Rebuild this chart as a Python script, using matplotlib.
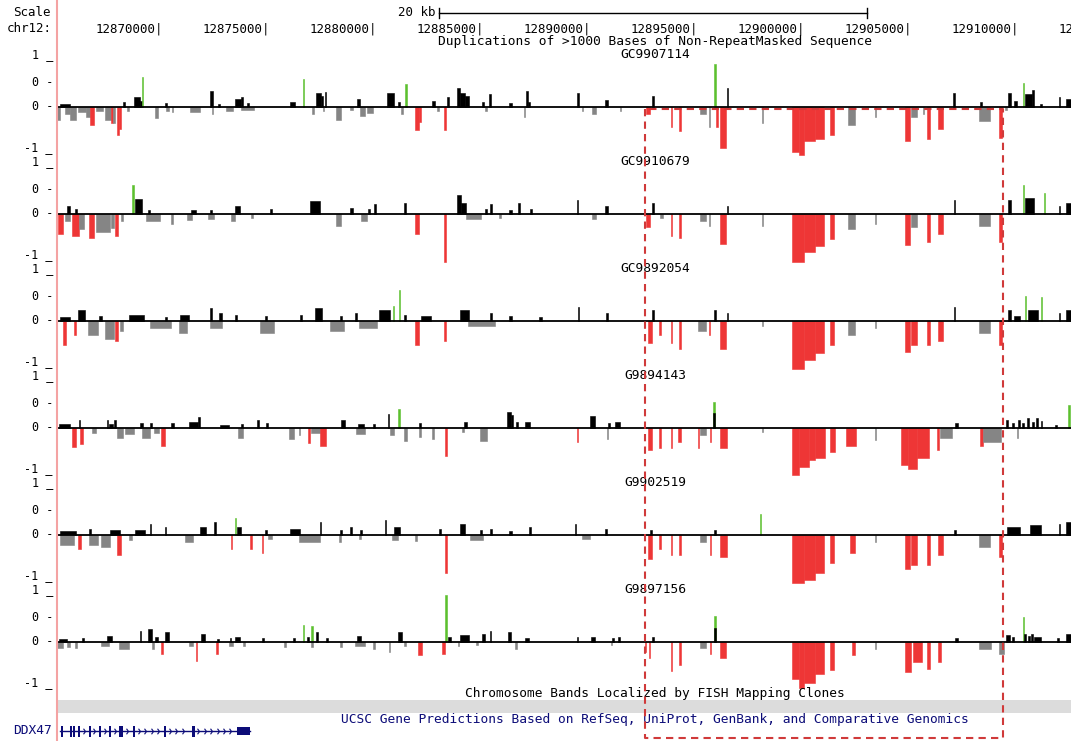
import numpy as np
import matplotlib.pyplot as plt
from matplotlib.patches import Rectangle
from matplotlib.path import Path

plt.rcParams['font.family'] = ['DejaVu Sans Mono']

W, H = 1071, 741
DPI = 100

# genome browser window on chr12, positions below are kb offsets from `origin`
origin = 12865000
view = (0.166, 47.53)
ruler_ticks = [12870000, 12875000, 12880000, 12885000, 12890000,
               12895000, 12900000, 12905000, 12910000, 12915000]
scale_bar = (18.0, 38.0)          # 20 kb
highlight = (27.63, 44.35)        # boxed region

track_title = "Duplications of >1000 Bases of Non-RepeatMasked Sequence"
track_names = ["GC9907114", "GC9910679", "GC9892054",
               "G9894143", "G9902519", "G9897156"]

# (start_kb, end_kb, value, called)
gc9907114 = [
    (0.31, 0.75, 0.04, 0), (3.26, 3.36, 0.08, 0), (3.77, 4.02, 0.17, 0), (4.02, 4.13, 0.11, 0),
    (4.13, 4.20, 0.55, 1), (5.19, 5.29, 0.06, 0), (7.31, 7.44, 0.30, 0), (7.70, 7.80, 0.04, 0),
    (8.49, 8.77, 0.15, 0), (8.77, 8.86, 0.17, 0), (9.05, 9.15, 0.06, 0), (11.07, 11.27, 0.08, 0),
    (11.65, 11.72, 0.51, 1), (12.28, 12.48, 0.25, 0), (12.48, 12.58, 0.19, 0), (12.69, 12.75, 0.28, 0),
    (14.16, 14.31, 0.15, 0), (15.58, 15.91, 0.25, 0), (16.09, 16.19, 0.09, 0), (16.43, 16.53, 0.43, 1),
    (17.68, 17.83, 0.11, 0), (18.38, 18.48, 0.17, 0), (18.84, 18.99, 0.34, 0), (18.99, 19.24, 0.26, 0),
    (19.24, 19.43, 0.19, 0), (20.00, 20.10, 0.09, 0), (20.36, 20.44, 0.23, 0), (21.30, 21.40, 0.06, 0),
    (22.08, 22.16, 0.30, 0), (22.16, 22.28, 0.09, 0), (24.47, 24.53, 0.25, 0), (25.74, 25.89, 0.13, 0),
    (27.96, 28.06, 0.19, 0), (30.86, 30.94, 0.81, 1), (31.44, 31.52, 0.34, 0), (42.03, 42.09, 0.25, 0),
    (43.26, 43.36, 0.08, 0), (44.61, 44.71, 0.26, 0), (44.85, 45.00, 0.11, 0), (45.28, 45.35, 0.45, 1),
    (45.38, 45.73, 0.23, 0), (45.73, 45.82, 0.32, 0), (46.06, 46.16, 0.04, 0), (46.97, 47.03, 0.17, 0),
    (47.31, 47.56, 0.15, 0),
    (0.17, 0.32, -0.25, 0), (0.55, 0.75, -0.15, 0), (0.75, 1.04, -0.25, 0), (1.13, 1.53, -0.11, 0),
    (1.53, 1.72, -0.19, 0), (1.72, 1.91, -0.34, 1), (2.00, 2.30, -0.09, 0), (2.39, 2.69, -0.25, 0),
    (2.69, 2.79, -0.32, 1), (2.79, 2.89, -0.32, 0), (2.97, 3.07, -0.53, 1), (3.07, 3.17, -0.42, 1),
    (3.45, 3.55, -0.09, 0), (4.75, 4.90, -0.21, 0), (5.28, 5.38, -0.08, 0), (5.53, 5.60, -0.11, 0),
    (6.39, 6.84, -0.11, 0), (7.41, 7.47, -0.15, 0), (8.08, 8.38, -0.09, 0), (8.75, 9.35, -0.06, 0),
    (12.09, 12.16, -0.15, 0), (12.57, 12.64, -0.09, 0), (13.20, 13.45, -0.25, 0), (13.87, 13.97, -0.07, 0),
    (14.31, 14.56, -0.17, 0), (14.64, 14.94, -0.12, 0), (16.24, 16.31, -0.15, 0), (16.87, 17.07, -0.45, 1),
    (17.07, 17.17, -0.30, 1), (17.93, 18.03, -0.09, 0), (18.22, 18.34, -0.45, 1), (20.15, 20.23, -0.09, 0),
    (21.98, 22.04, -0.19, 0), (24.68, 24.74, -0.09, 0), (25.16, 25.36, -0.15, 0), (26.47, 26.53, -0.09, 0),
    (27.67, 27.87, -0.15, 1), (28.83, 28.90, -0.38, 1), (29.24, 29.32, -0.47, 1), (30.18, 30.48, -0.15, 0),
    (30.62, 30.69, -0.38, 0), (30.96, 31.06, -0.38, 1), (31.15, 31.40, -0.79, 1), (33.08, 33.14, -0.32, 0),
    (34.52, 34.82, -0.85, 1), (34.82, 35.06, -0.91, 1), (35.06, 35.55, -0.66, 1), (35.55, 35.98, -0.62, 1),
    (36.26, 36.46, -0.53, 1), (37.13, 37.45, -0.34, 0), (38.38, 38.44, -0.19, 0), (39.78, 40.03, -0.66, 1),
    (40.07, 40.32, -0.19, 0), (40.60, 40.68, -0.15, 0), (40.80, 40.95, -0.62, 1), (41.33, 41.53, -0.42, 1),
    (43.25, 43.75, -0.28, 0), (44.17, 44.32, -0.60, 1), (44.46, 44.56, -0.06, 0),
]

gc9910679 = [
    (0.65, 0.75, 0.15, 0), (0.99, 1.09, 0.08, 0), (3.69, 3.76, 0.53, 1), (3.79, 4.14, 0.28, 0),
    (4.42, 4.52, 0.06, 0), (6.44, 6.64, 0.06, 0), (7.31, 7.41, 0.06, 0), (8.47, 8.72, 0.15, 0),
    (10.11, 10.21, 0.08, 0), (11.99, 12.44, 0.23, 0), (13.87, 13.97, 0.11, 0), (14.69, 14.79, 0.09, 0),
    (14.98, 15.08, 0.17, 0), (16.38, 16.48, 0.19, 0), (18.84, 19.04, 0.34, 0), (19.04, 19.29, 0.19, 0),
    (20.15, 20.25, 0.09, 0), (20.39, 20.49, 0.17, 0), (21.30, 21.40, 0.06, 0), (21.69, 21.79, 0.19, 0),
    (22.27, 22.37, 0.08, 0), (24.44, 24.51, 0.25, 0), (25.74, 25.89, 0.15, 0), (27.96, 28.06, 0.19, 0),
    (31.44, 31.52, 0.15, 0), (42.05, 42.11, 0.25, 0), (44.61, 44.71, 0.26, 0), (45.28, 45.35, 0.53, 1),
    (45.38, 45.82, 0.30, 0), (46.25, 46.32, 0.38, 1), (46.97, 47.03, 0.15, 0), (47.31, 47.56, 0.19, 0),
    (0.22, 0.46, -0.38, 1), (0.55, 0.75, -0.15, 0), (0.89, 1.18, -0.43, 1), (1.18, 1.42, -0.30, 0),
    (1.67, 1.91, -0.47, 1), (2.00, 2.63, -0.34, 0), (2.68, 2.83, -0.28, 0), (2.87, 3.02, -0.43, 1),
    (3.16, 3.26, -0.15, 0), (4.32, 5.00, -0.15, 0), (5.48, 5.58, -0.19, 0), (6.25, 6.45, -0.13, 0),
    (7.21, 7.51, -0.11, 0), (8.28, 8.48, -0.15, 0), (9.24, 9.34, -0.09, 0), (13.20, 13.45, -0.23, 0),
    (14.36, 14.66, -0.15, 0), (16.87, 17.07, -0.38, 1), (18.22, 18.32, -0.92, 1), (19.28, 19.98, -0.11, 0),
    (20.82, 20.92, -0.08, 0), (25.16, 25.36, -0.11, 0), (27.67, 27.87, -0.26, 1), (28.35, 28.45, -0.09, 0),
    (28.83, 28.90, -0.42, 1), (29.24, 29.32, -0.47, 1), (30.18, 30.48, -0.15, 0), (30.62, 30.69, -0.23, 0),
    (31.15, 31.40, -0.57, 1), (33.08, 33.14, -0.23, 0), (34.52, 35.06, -0.91, 1), (35.06, 35.55, -0.72, 1),
    (35.55, 35.98, -0.62, 1), (36.26, 36.46, -0.49, 1), (37.13, 37.45, -0.30, 0), (38.38, 38.44, -0.19, 0),
    (39.78, 40.03, -0.60, 1), (40.07, 40.32, -0.25, 0), (40.80, 40.95, -0.53, 1), (41.33, 41.53, -0.38, 1),
    (43.25, 43.75, -0.23, 0), (44.17, 44.32, -0.53, 1),
]

gc9892054 = [
    (0.31, 0.75, 0.06, 0), (1.13, 1.47, 0.19, 0), (2.15, 2.25, 0.09, 0), (3.55, 4.22, 0.11, 0),
    (5.19, 5.29, 0.06, 0), (5.91, 6.35, 0.11, 0), (7.31, 7.41, 0.23, 0), (7.75, 7.85, 0.15, 0),
    (8.47, 8.57, 0.11, 0), (9.87, 9.97, 0.09, 0), (11.51, 11.61, 0.11, 0), (12.23, 12.53, 0.23, 0),
    (13.40, 13.50, 0.08, 0), (14.07, 14.17, 0.15, 0), (15.22, 15.71, 0.19, 0), (15.85, 15.92, 0.28, 1),
    (16.14, 16.21, 0.57, 1), (16.38, 16.48, 0.11, 0), (17.16, 17.64, 0.08, 0), (18.99, 19.43, 0.19, 0),
    (20.39, 20.49, 0.15, 0), (21.30, 21.40, 0.08, 0), (22.70, 22.80, 0.06, 0), (24.49, 24.56, 0.25, 0),
    (25.79, 25.89, 0.15, 0), (27.96, 28.06, 0.19, 0), (30.86, 30.94, 0.19, 0), (31.44, 31.52, 0.15, 0),
    (42.05, 42.11, 0.25, 0), (44.61, 44.71, 0.19, 0), (44.85, 45.15, 0.08, 0), (45.38, 45.45, 0.47, 1),
    (45.52, 46.01, 0.19, 0), (46.11, 46.18, 0.45, 1), (46.97, 47.03, 0.15, 0), (47.31, 47.56, 0.19, 0),
    (0.46, 0.60, -0.47, 1), (0.94, 1.04, -0.28, 1), (1.62, 2.10, -0.28, 0), (2.39, 2.83, -0.34, 0),
    (2.87, 3.02, -0.38, 1), (3.11, 3.26, -0.19, 0), (4.51, 5.48, -0.15, 0), (5.86, 6.25, -0.23, 0),
    (7.31, 7.89, -0.15, 0), (9.63, 10.30, -0.23, 0), (12.91, 13.58, -0.19, 0), (14.26, 15.13, -0.15, 0),
    (16.87, 17.07, -0.47, 1), (18.22, 18.32, -0.38, 1), (19.37, 20.63, -0.11, 0), (27.77, 27.96, -0.42, 1),
    (28.30, 28.37, -0.28, 1), (28.83, 28.90, -0.42, 1), (29.24, 29.32, -0.53, 1), (30.09, 30.48, -0.19, 0),
    (30.62, 30.69, -0.28, 1), (31.15, 31.40, -0.53, 1), (33.08, 33.14, -0.11, 0), (34.52, 35.06, -0.91, 1),
    (35.06, 35.55, -0.75, 1), (35.55, 35.98, -0.62, 1), (36.26, 36.46, -0.47, 1), (37.13, 37.45, -0.28, 0),
    (38.38, 38.44, -0.15, 0), (39.78, 40.03, -0.60, 1), (40.07, 40.36, -0.47, 1), (40.80, 40.95, -0.47, 1),
    (41.33, 41.53, -0.38, 1), (43.25, 43.75, -0.23, 0), (44.17, 44.32, -0.47, 1),
]

g9894143 = [
    (0.27, 0.75, 0.06, 0), (1.18, 1.25, 0.15, 0), (2.49, 2.56, 0.15, 0), (2.58, 2.78, 0.06, 0),
    (2.85, 2.92, 0.15, 0), (4.03, 4.18, 0.08, 0), (4.51, 4.61, 0.09, 0), (5.48, 5.63, 0.09, 0),
    (6.35, 6.73, 0.11, 0), (6.73, 6.83, 0.19, 0), (7.79, 8.18, 0.04, 0), (8.76, 8.86, 0.06, 0),
    (9.53, 9.60, 0.15, 0), (9.92, 10.02, 0.08, 0), (13.44, 13.64, 0.15, 0), (14.21, 14.50, 0.06, 0),
    (14.94, 15.04, 0.06, 0), (15.61, 15.67, 0.25, 0), (16.09, 16.17, 0.34, 1), (17.06, 17.16, 0.08, 0),
    (19.18, 19.33, 0.11, 0), (21.20, 21.35, 0.30, 0), (21.35, 21.45, 0.23, 0), (21.59, 21.69, 0.11, 0),
    (22.03, 22.28, 0.11, 0), (25.07, 25.31, 0.21, 0), (25.89, 25.99, 0.09, 0), (26.23, 26.47, 0.11, 0),
    (30.81, 30.89, 0.49, 1), (30.81, 30.89, 0.28, 0), (42.10, 42.25, 0.08, 0), (44.51, 44.61, 0.15, 0),
    (44.76, 44.86, 0.09, 0), (45.05, 45.15, 0.15, 0), (45.24, 45.34, 0.09, 0), (45.48, 45.58, 0.17, 0),
    (45.72, 45.82, 0.11, 0), (45.91, 46.01, 0.17, 0), (46.11, 46.17, 0.13, 0), (46.78, 46.88, 0.04, 0),
    (47.41, 47.48, 0.42, 1),
    (0.86, 1.04, -0.36, 1), (1.23, 1.38, -0.32, 1), (1.81, 2.00, -0.11, 0), (2.97, 3.26, -0.19, 0),
    (3.35, 3.74, -0.13, 0), (4.13, 4.51, -0.19, 0), (4.71, 4.95, -0.11, 0), (5.04, 5.19, -0.34, 1),
    (8.61, 8.86, -0.19, 0), (10.98, 11.22, -0.21, 0), (11.46, 11.53, -0.15, 0), (11.90, 12.00, -0.30, 1),
    (12.04, 12.43, -0.11, 0), (12.47, 12.72, -0.34, 1), (14.11, 14.55, -0.13, 0), (15.71, 15.90, -0.15, 0),
    (16.38, 16.53, -0.25, 0), (17.06, 17.16, -0.17, 0), (17.69, 17.76, -0.21, 0), (18.27, 18.37, -0.53, 1),
    (19.09, 19.19, -0.09, 0), (19.91, 20.25, -0.25, 0), (24.44, 24.49, -0.28, 1), (25.84, 25.90, -0.21, 0),
    (27.77, 27.96, -0.42, 1), (28.30, 28.37, -0.38, 1), (28.83, 28.90, -0.38, 1), (29.17, 29.32, -0.28, 1),
    (30.09, 30.14, -0.38, 1), (30.18, 30.48, -0.15, 0), (30.67, 30.73, -0.28, 1), (31.15, 31.44, -0.38, 1),
    (33.08, 33.13, -0.09, 0), (34.52, 34.82, -0.89, 1), (34.82, 35.30, -0.75, 1), (35.30, 35.59, -0.62, 1),
    (35.59, 36.02, -0.57, 1), (36.26, 36.50, -0.47, 1), (37.03, 37.51, -0.34, 1), (38.38, 38.44, -0.23, 0),
    (39.59, 39.93, -0.70, 1), (39.93, 40.32, -0.79, 1), (40.32, 40.90, -0.57, 1), (41.28, 41.38, -0.42, 1),
    (41.43, 41.96, -0.19, 0), (43.30, 43.40, -0.34, 1), (43.40, 44.27, -0.28, 0), (45.00, 45.07, -0.19, 0),
]

g9902519 = [
    (0.31, 1.04, 0.06, 0), (1.67, 1.76, 0.11, 0), (2.63, 3.11, 0.08, 0), (3.79, 4.27, 0.09, 0),
    (4.51, 4.58, 0.19, 0), (5.19, 5.26, 0.15, 0), (6.83, 7.12, 0.15, 0), (7.50, 7.57, 0.23, 0),
    (8.47, 8.54, 0.32, 1), (8.57, 8.76, 0.15, 0), (9.87, 9.97, 0.09, 0), (11.03, 11.51, 0.11, 0),
    (12.43, 12.50, 0.23, 0), (13.40, 13.50, 0.09, 0), (13.83, 13.93, 0.15, 0), (14.31, 14.41, 0.08, 0),
    (15.47, 15.54, 0.28, 0), (15.90, 16.19, 0.15, 0), (18.02, 18.12, 0.11, 0), (18.99, 19.24, 0.19, 0),
    (19.91, 20.01, 0.08, 0), (20.39, 20.49, 0.11, 0), (21.30, 21.40, 0.06, 0), (22.22, 22.32, 0.15, 0),
    (24.34, 24.41, 0.19, 0), (25.74, 25.84, 0.11, 0), (27.86, 27.96, 0.09, 0), (30.86, 30.93, 0.09, 0),
    (32.98, 33.05, 0.38, 1), (42.05, 42.15, 0.09, 0), (44.56, 45.15, 0.15, 0), (45.62, 46.11, 0.17, 0),
    (46.97, 47.03, 0.19, 0), (47.31, 47.56, 0.23, 0),
    (0.31, 0.94, -0.19, 0), (1.13, 1.28, -0.28, 1), (1.67, 2.06, -0.19, 0), (2.20, 2.63, -0.23, 0),
    (2.97, 3.17, -0.38, 1), (3.55, 3.65, -0.11, 0), (6.15, 6.54, -0.15, 0), (8.28, 8.35, -0.28, 1),
    (9.20, 9.27, -0.28, 1), (9.73, 9.80, -0.34, 1), (10.02, 10.21, -0.09, 0), (11.46, 12.43, -0.15, 0),
    (13.35, 13.45, -0.15, 0), (14.26, 14.36, -0.09, 0), (15.81, 16.09, -0.11, 0), (16.87, 16.97, -0.13, 0),
    (18.27, 18.37, -0.72, 1), (19.47, 20.05, -0.11, 0), (24.68, 25.07, -0.09, 0), (27.77, 27.96, -0.47, 1),
    (28.30, 28.37, -0.28, 1), (28.83, 28.90, -0.38, 1), (29.24, 29.32, -0.38, 1), (30.18, 30.48, -0.15, 0),
    (30.67, 30.73, -0.38, 1), (31.15, 31.44, -0.42, 1), (34.52, 35.06, -0.92, 1), (35.06, 35.55, -0.85, 1),
    (35.55, 35.98, -0.72, 1), (36.26, 36.46, -0.53, 1), (37.23, 37.45, -0.34, 1), (38.38, 38.44, -0.15, 0),
    (39.78, 40.03, -0.66, 1), (40.07, 40.36, -0.57, 1), (40.80, 40.95, -0.57, 1), (41.33, 41.53, -0.38, 1),
    (43.25, 43.75, -0.23, 0), (44.17, 44.32, -0.42, 1),
]

g9897156 = [
    (0.27, 0.65, 0.04, 0), (1.33, 1.42, 0.06, 0), (2.49, 2.73, 0.11, 0), (4.03, 4.10, 0.19, 0),
    (4.42, 4.61, 0.23, 0), (4.75, 4.90, 0.09, 0), (5.19, 5.38, 0.17, 0), (6.88, 7.07, 0.15, 0),
    (7.65, 7.75, 0.04, 0), (8.23, 8.30, 0.06, 0), (8.49, 8.72, 0.09, 0), (9.73, 9.82, 0.06, 0),
    (11.17, 11.27, 0.06, 0), (11.65, 11.72, 0.32, 1), (11.85, 11.94, 0.08, 0), (12.04, 12.11, 0.30, 1),
    (12.28, 12.35, 0.17, 0), (12.72, 12.81, 0.06, 0), (14.16, 14.36, 0.11, 0), (16.09, 16.29, 0.17, 0),
    (18.30, 18.37, 0.87, 1), (18.41, 18.56, 0.09, 0), (18.99, 19.43, 0.13, 0), (20.00, 20.15, 0.15, 0),
    (20.39, 20.46, 0.19, 0), (21.25, 21.37, 0.17, 0), (22.03, 22.23, 0.06, 0), (24.44, 24.49, 0.08, 0),
    (25.11, 25.31, 0.09, 0), (26.08, 26.18, 0.06, 0), (26.37, 26.47, 0.08, 0), (27.96, 28.06, 0.08, 0),
    (30.86, 30.93, 0.49, 1), (30.86, 30.93, 0.25, 0), (42.10, 42.25, 0.06, 0), (44.51, 44.66, 0.13, 0),
    (44.76, 44.86, 0.09, 0), (45.28, 45.35, 0.47, 1), (45.35, 45.43, 0.15, 0), (45.52, 45.62, 0.11, 0),
    (45.67, 45.77, 0.15, 0), (45.82, 46.11, 0.09, 0), (46.88, 46.97, 0.06, 0), (47.31, 47.56, 0.15, 0),
    (0.17, 0.46, -0.13, 0), (0.65, 0.75, -0.11, 0), (0.99, 1.09, -0.13, 0), (2.20, 2.58, -0.08, 0),
    (3.07, 3.55, -0.15, 0), (4.61, 4.68, -0.15, 0), (5.04, 5.14, -0.23, 1), (6.35, 6.54, -0.09, 0),
    (6.64, 6.71, -0.36, 1), (7.60, 7.67, -0.23, 1), (8.18, 8.38, -0.08, 0), (8.86, 8.95, -0.08, 0),
    (10.79, 10.86, -0.11, 0), (12.04, 12.11, -0.11, 0), (13.40, 13.47, -0.11, 0), (14.07, 14.55, -0.09, 0),
    (14.94, 15.01, -0.15, 0), (15.66, 15.72, -0.19, 0), (16.38, 16.45, -0.09, 0), (17.01, 17.20, -0.26, 1),
    (18.17, 18.27, -0.23, 1), (18.89, 18.96, -0.09, 0), (19.76, 19.83, -0.06, 0), (21.54, 21.64, -0.15, 0),
    (26.03, 26.10, -0.06, 0), (27.62, 27.69, -0.19, 1), (27.81, 27.88, -0.32, 1), (28.83, 28.90, -0.55, 1),
    (29.24, 29.32, -0.45, 1), (30.18, 30.48, -0.13, 0), (30.67, 30.73, -0.23, 1), (31.15, 31.40, -0.32, 1),
    (34.52, 34.82, -0.70, 1), (34.82, 35.06, -0.87, 1), (35.06, 35.55, -0.79, 1), (35.55, 35.98, -0.62, 1),
    (36.26, 36.46, -0.53, 1), (37.28, 37.45, -0.25, 1), (38.38, 38.44, -0.15, 0), (39.78, 40.07, -0.57, 1),
    (40.17, 40.56, -0.38, 1), (40.80, 40.95, -0.51, 1), (41.33, 41.48, -0.38, 1), (43.25, 43.78, -0.15, 0),
    (44.17, 44.41, -0.23, 0),
]

tracks = [gc9907114, gc9910679, gc9892054, g9894143, g9902519, g9897156]

band_title = "Chromosome Bands Localized by FISH Mapping Clones"
band_name = "12p13.1"
gene_title = ("UCSC Gene Predictions Based on RefSeq, UniProt, GenBank, "
              "and Comparative Genomics")
gene_name = "DDX47"
gene_span = (0.31, 9.18)
gene_exons = [(0.36, 0.46), (0.76, 0.86), (0.92, 1.02), (1.15, 1.25), (1.64, 1.74),
              (2.13, 2.23), (2.59, 2.69), (3.08, 3.24), (3.71, 3.81), (5.16, 5.26),
              (6.45, 6.59), (8.58, 9.18)]

GREEN, BLACK, RED, GREY = '#5cc02e', '#000000', '#ee3636', '#858585'
NAVY = '#0c0c78'


def fx(x):
    return x / W


def fy(y):
    return 1 - y / H


fig = plt.figure(figsize=(W / DPI, H / DPI), dpi=DPI)
left, width = 57 / W, 1014 / W

# one axes per sample track, zero line at `base` pixels from the top
unit = 53.0
ylo, yhi = -0.95, 1.17
for i, (name, data) in enumerate(zip(track_names, tracks)):
    base = 106.5 + 107 * i
    ax = fig.add_axes([left, fy(base - ylo * unit), width, (yhi - ylo) * unit / H])
    ax.set_xlim(*view)
    ax.set_ylim(ylo, yhi)
    ax.axis('off')
    ax.patch.set_alpha(0)

    s = np.array([d[0] for d in data])
    e = np.array([d[1] for d in data])
    v = np.array([d[2] for d in data])
    called = [d[3] for d in data]
    colors = [(GREEN if c else BLACK) if val >= 0 else (RED if c else GREY)
              for val, c in zip(v, called)]
    # a hairline edge in the bar colour keeps the one-pixel spikes solid
    ax.bar(s, v, width=e - s, align='edge', color=colors, edgecolor=colors,
           linewidth=0.4)
    ax.axhline(0, color='black', lw=1.3, zorder=3)

    fig.text(fx(655), fy(base - 52), name, ha='center', va='center', fontsize=9.3)
    for lab, dy in [("1 _", -52), ("0 -", -24), ("0 -", 0), ("-1 _", 41)]:
        fig.text(fx(53), fy(base + dy), lab, ha='right', va='center', fontsize=8.5)

# page-level axes for ruler, highlight box and annotation tracks (y in pixel rows)
page = fig.add_axes([left, 0, width, 1], zorder=5)
page.set_xlim(*view)
page.set_ylim(H, 0)
page.axis('off')
page.patch.set_alpha(0)

page.axvline(view[0], color='#f4a3a3', lw=1.5, clip_on=False)

fig.text(fx(51), fy(13), "Scale", ha='right', va='center', fontsize=9)
fig.text(fx(52), fy(29), "chr12:", ha='right', va='center', fontsize=9)

page.plot(scale_bar, [13, 13], color='black', lw=1)
for xb in scale_bar:
    page.plot([xb, xb], [8, 18], color='black', lw=1)
page.text(scale_bar[0] - 0.15, 13, "%d kb" % round(scale_bar[1] - scale_bar[0]),
          ha='right', va='center', fontsize=9)

# last label sits past the window edge, only its first digits show
for t in ruler_ticks:
    page.text((t - origin) / 1000 + 0.1, 29, f"{t}|", ha='right', va='center', fontsize=9)

fig.text(fx(655), fy(42), track_title, ha='center', va='center', fontsize=9.3)

# chromosome band and gene tracks
fig.text(fx(655), fy(693), band_title, ha='center', va='center', fontsize=9.3)
page.add_patch(Rectangle((view[0], 700), view[1] - view[0], 13,
                         facecolor='#dcdcdc', edgecolor='none'))
fig.text(fx(655), fy(706.5), band_name, ha='center', va='center', fontsize=9.3)

fig.text(fx(655), fy(719), gene_title, ha='center', va='center', fontsize=9.3, color=NAVY)
fig.text(fx(52), fy(731), gene_name, ha='right', va='center', fontsize=9.3, color=NAVY)
page.plot(gene_span, [731, 731], color=NAVY, lw=1)
for a, b in gene_exons:
    h = 8 if b - a > 0.3 else 11
    page.add_patch(Rectangle((a, 731 - h / 2), b - a, h, facecolor=NAVY, edgecolor='none'))
chev = Path([(-1, 1.4), (0, 0), (-1, -1.4)], [Path.MOVETO, Path.LINETO, Path.LINETO])
for (a0, b0), (a1, b1) in zip(gene_exons[:-1], gene_exons[1:]):
    gap = np.arange(b0 + 0.22, a1 - 0.1, 0.3)
    page.plot(gap, np.full(len(gap), 731), linestyle='none', marker=chev,
              markersize=4, markerfacecolor='none', markeredgecolor=NAVY, mew=0.8)

# highlighted region
x0, x1 = highlight
page.plot([x0, x0, x1, x1, x0], [108.5, 738, 738, 108.5, 108.5], color='#d03a3a',
          lw=1.5, linestyle=(0, (3.5, 2.5)), clip_on=False)

fig.savefig("out.png", dpi=DPI)
